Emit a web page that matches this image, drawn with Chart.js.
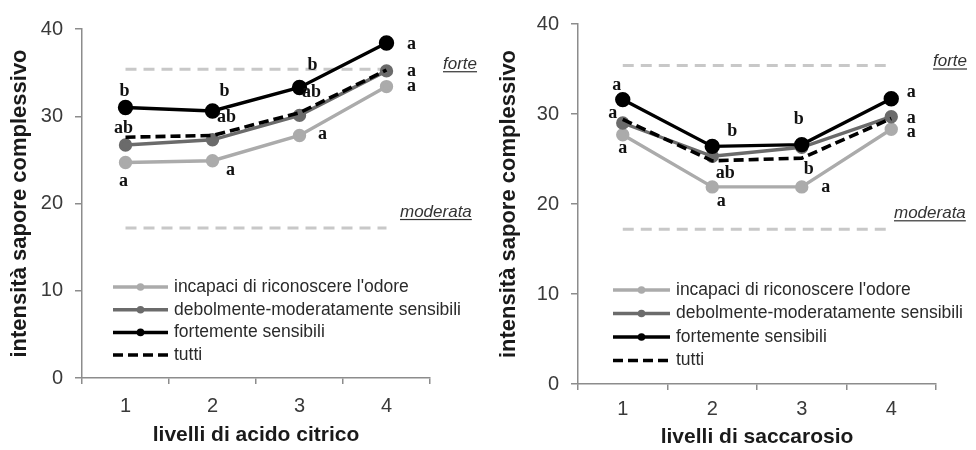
<!DOCTYPE html>
<html>
<head>
<meta charset="utf-8">
<script src="https://cdn.jsdelivr.net/npm/chart.js@4/dist/chart.umd.min.js"></script>
<style>
  html, body { margin: 0; padding: 0; background: #ffffff; }
  #wrap { position: relative; width: 976px; height: 450px; }
  canvas { position: absolute; top: 0; }
  #citrico { left: 0; }
  #saccarosio { left: 488px; }
</style>
</head>
<body>
<div id="wrap">
  <canvas id="citrico" width="488" height="450"></canvas>
  <canvas id="saccarosio" width="488" height="450"></canvas>
</div>
<script>
// ---- data ----
const levels = ['1', '2', '3', '4'];
const seriesNames = ["incapaci di riconoscere l'odore", 'debolmente-moderatamente sensibili', 'fortemente sensibili', 'tutti'];
const yTicks = [0, 10, 20, 30, 40];

// acido citrico
const citricIncapaci   = [24.7, 24.9, 27.8, 33.4];
const citricDebolmente = [26.7, 27.3, 30.1, 35.2];
const citricFortemente = [31.0, 30.6, 33.3, 38.4];
const citricTutti      = [27.6, 27.8, 30.4, 35.3];
const citricLettersIncapaci   = ['a', 'a', 'a', 'a'];
const citricLettersDebolmente = ['ab', 'ab', 'ab', 'a'];
const citricLettersFortemente = ['b', 'b', 'b', 'a'];

// saccarosio
const sucIncapaci   = [27.7, 21.9, 21.9, 28.3];
const sucDebolmente = [29.0, 25.3, 26.3, 29.7];
const sucFortemente = [31.6, 26.4, 26.6, 31.7];
const sucTutti      = [29.4, 24.8, 25.1, 29.5];
const sucLettersIncapaci   = ['a', 'a', 'a', 'a'];
const sucLettersDebolmente = ['a', 'ab', 'b', 'a'];
const sucLettersFortemente = ['a', 'b', 'b', 'a'];

// intensity reference levels
const forteLevel = 35.4;
const moderataLevel = 17.2;

// ---- styles ----
const SANS = '"Liberation Sans", Arial, sans-serif';
const SERIF = '"Liberation Serif", "Times New Roman", serif';
const AXIS_COLOR = '#8c8c8c';
const TEXT_COLOR = '#2a2a2a';

function seriesDatasets(incapaci, debolmente, fortemente, tutti) {
  const flat = v => levels.map(() => v);
  return [
    { label: seriesNames[0], data: incapaci, borderColor: '#ababab', backgroundColor: '#ababab',
      borderWidth: 3.4, pointRadius: 5, order: 3 },
    { label: seriesNames[1], data: debolmente, borderColor: '#6b6b6b', backgroundColor: '#6b6b6b',
      borderWidth: 3.4, pointRadius: 5, order: 2 },
    { label: seriesNames[2], data: fortemente, borderColor: '#000000', backgroundColor: '#000000',
      borderWidth: 3.4, pointRadius: 6, order: 0 },
    { label: seriesNames[3], data: tutti, borderColor: '#000000', backgroundColor: '#000000',
      borderWidth: 3.6, borderDash: [10, 5], pointRadius: 0, order: 1 },
    { label: 'forte', data: flat(forteLevel), borderColor: '#c8c8c8', borderWidth: 3,
      borderDash: [11, 7], pointRadius: 0, order: 4 },
    { label: 'moderata', data: flat(moderataLevel), borderColor: '#c8c8c8', borderWidth: 3,
      borderDash: [11, 7], pointRadius: 0, order: 4 }
  ];
}

// letters next to the means, legend inside the plot, and level notes
const decorPlugin = {
  id: 'decor',
  afterDatasetsDraw(chart, args, opts) {
    const ctx = chart.ctx;
    const area = chart.chartArea;
    const yScale = chart.scales.y;
    ctx.save();

    // significance letters
    ctx.font = 'bold 18px ' + SERIF;
    ctx.fillStyle = '#111111';
    ctx.textAlign = 'center';
    ctx.textBaseline = 'middle';
    opts.letters.forEach(group => {
      const meta = chart.getDatasetMeta(group.dataset);
      group.text.forEach((t, i) => {
        const p = meta.data[i];
        ctx.fillText(t, p.x + group.offsets[i][0], p.y + group.offsets[i][1]);
      });
    });

    // level notes (underlined italic)
    ctx.font = 'italic 17px ' + SANS;
    ctx.fillStyle = '#333333';
    ctx.textAlign = 'left';
    ctx.textBaseline = 'alphabetic';
    opts.notes.forEach(n => {
      const yy = yScale.getPixelForValue(n.value) + n.dy;
      const xx = area.right + n.dx;
      ctx.fillText(n.text, xx, yy);
      const w = ctx.measureText(n.text).width;
      ctx.fillRect(xx, yy + 2, w, 1.2);
    });

    // legend
    const lg = opts.legend;
    ctx.font = '17.5px ' + SANS;
    ctx.textBaseline = 'middle';
    for (let k = 0; k < 4; k++) {
      const ds = chart.data.datasets[k];
      const y = lg.y + k * lg.gap;
      const x0 = area.left + lg.x;
      const x1 = x0 + lg.len;
      ctx.strokeStyle = ds.borderColor;
      ctx.lineWidth = 3.5;
      ctx.setLineDash(ds.borderDash || []);
      ctx.beginPath();
      ctx.moveTo(x0, y);
      ctx.lineTo(x1, y);
      ctx.stroke();
      ctx.setLineDash([]);
      if (ds.pointRadius > 0) {
        ctx.fillStyle = ds.backgroundColor;
        ctx.beginPath();
        ctx.arc((x0 + x1) / 2, y, 3.8, 0, Math.PI * 2);
        ctx.fill();
      }
      ctx.fillStyle = TEXT_COLOR;
      ctx.fillText(ds.label, x1 + 6, y);
    }
    ctx.restore();
  }
};

function buildChart(id, datasets, xTitle, frame, decor) {
  return new Chart(document.getElementById(id), {
    type: 'line',
    data: { labels: levels, datasets },
    plugins: [decorPlugin],
    options: {
      responsive: false,
      animation: false,
      devicePixelRatio: 1,
      layout: { padding: { top: frame.top, right: frame.right, left: 0, bottom: 0 } },
      elements: { line: { tension: 0, fill: false } },
      plugins: {
        legend: { display: false },
        tooltip: { enabled: false },
        decor
      },
      scales: {
        x: {
          type: 'category',
          offset: true,
          border: { display: true, color: AXIS_COLOR, width: 1.5 },
          grid: { offset: true, drawOnChartArea: false, drawTicks: true, tickLength: 6, color: AXIS_COLOR, lineWidth: 1.5 },
          ticks: { color: '#3a3a3a', font: { family: SANS, size: 20 }, padding: frame.xPad },
          title: { display: true, text: xTitle, color: '#1a1a1a', font: { family: SANS, size: 21, weight: 'bold', lineHeight: 1 }, padding: { top: 0, bottom: frame.xTitlePad } },
          afterFit: s => { s.height = frame.xHeight; }
        },
        y: {
          min: 0, max: 40,
          afterBuildTicks: s => { s.ticks = yTicks.map(v => ({ value: v })); },
          border: { display: true, color: AXIS_COLOR, width: 1.5 },
          grid: { drawOnChartArea: false, drawTicks: true, tickLength: 7, color: AXIS_COLOR, lineWidth: 1.5 },
          ticks: { color: '#3a3a3a', font: { family: SANS, size: 20 }, padding: frame.yPad },
          title: { display: true, text: 'intensità sapore complessivo', color: '#1a1a1a', font: { family: SANS, size: 22, weight: 'bold', lineHeight: 1 }, padding: { top: frame.yTitlePad, bottom: 0 } },
          afterFit: s => { s.width = frame.yWidth; }
        }
      }
    }
  });
}

buildChart('citrico',
  seriesDatasets(citricIncapaci, citricDebolmente, citricFortemente, citricTutti),
  'livelli di acido citrico',
  { top: 29, right: 58, yWidth: 82, xHeight: 72, xPad: 10, yPad: 12, xTitlePad: 4, yTitlePad: 9 },
  {
    letters: [
      { dataset: 2, text: citricLettersFortemente, offsets: [[-1, -16], [12, -20], [13, -22], [25, 1]] },
      { dataset: 1, text: citricLettersDebolmente, offsets: [[-2, -17], [14, -22], [12, -23], [25, 0]] },
      { dataset: 0, text: citricLettersIncapaci, offsets: [[-2, 19], [18, 10], [23, -1], [25, 0]] }
    ],
    notes: [
      { text: 'forte', value: forteLevel, dx: 13, dy: 0 },
      { text: 'moderata', value: moderataLevel, dx: -30, dy: -11 }
    ],
    legend: { x: 31, y: 287, gap: 22.7, len: 55 }
  });

buildChart('saccarosio',
  seriesDatasets(sucIncapaci, sucDebolmente, sucFortemente, sucTutti),
  'livelli di saccarosio',
  { top: 22, right: 40, yWidth: 90, xHeight: 66, xPad: 7, yPad: 12, xTitlePad: 2, yTitlePad: 10 },
  {
    letters: [
      { dataset: 2, text: sucLettersFortemente, offsets: [[-6, -14], [20, -15], [-3, -25], [20, -6]] },
      { dataset: 1, text: sucLettersDebolmente, offsets: [[-10, -10], [13, 17], [7, 22], [20, 2]] },
      { dataset: 0, text: sucLettersIncapaci, offsets: [[0, 14], [9, 14], [24, 0], [20, 3]] }
    ],
    notes: [
      { text: 'forte', value: forteLevel, dx: -3, dy: 1 },
      { text: 'moderata', value: moderataLevel, dx: -42, dy: -11 }
    ],
    legend: { x: 35, y: 290, gap: 23.5, len: 57 }
  });
</script>
</body>
</html>
